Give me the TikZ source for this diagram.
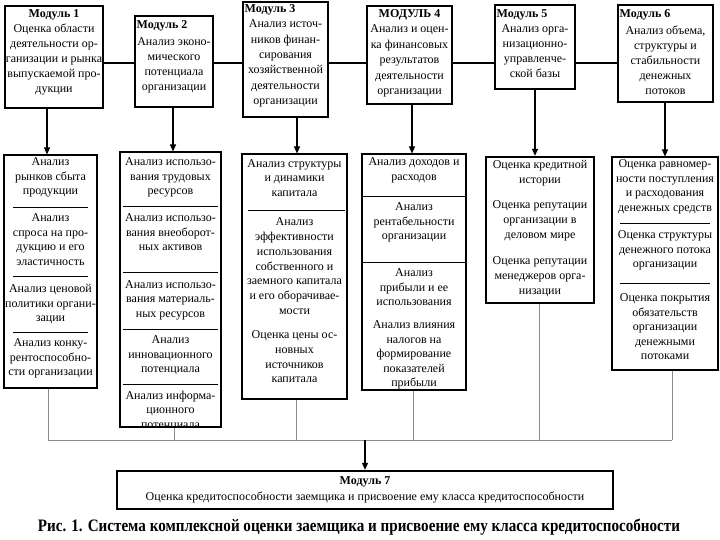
\documentclass[tikz,border=0pt]{standalone}
\usepackage{fontspec}
\setmainfont{Liberation Serif}
\usetikzlibrary{arrows.meta}
\begin{document}
\begin{tikzpicture}[x=1pt,y=-1pt,
  box/.style={draw, line width=1.1pt, inner sep=0pt},
  midbox/.style={draw, line width=1.6pt, inner sep=0pt},
  thickbox/.style={draw, line width=2.4pt, inner sep=0pt},
  ttxt/.style={font=\fontsize{12}{15}\selectfont, align=center, inner sep=0pt},
  ltxt/.style={font=\fontsize{12}{14.5}\selectfont, align=center, inner sep=0pt},
  ttl/.style={font=\bfseries\fontsize{12}{15}\selectfont, inner sep=0pt},
  sepline/.style={line width=0.9pt},
  conn/.style={line width=1.1pt},
  feed/.style={-{Triangle[length=7pt,width=6pt]}, line width=1.1pt},
  busline/.style={draw=black!45, line width=0.9pt}]
\fill[white] (0,0) rectangle (720,540);
\useasboundingbox (0,0) rectangle (720,540);

% ---------- top modules ----------
\node[box, minimum width=98pt, minimum height=102pt] (m1) at (54,57) {};
\node[box, minimum width=78pt, minimum height=91pt] (m2) at (174,61.5) {};
\node[thickbox, minimum width=85pt, minimum height=115pt] (m3) at (285.5,59.5) {};
\node[box, minimum width=85pt, minimum height=98pt] (m4) at (409.5,55) {};
\node[midbox, minimum width=80pt, minimum height=84pt] (m5) at (535,47) {};
\node[midbox, minimum width=95pt, minimum height=97pt] (m6) at (665.5,53.5) {};

\node[ttl] (t1) at (54,15) {Модуль 1};
\node[ttxt] (x1) at (54,60) {Оценка области\\деятельности ор-\\ганизации и рынка\\выпускаемой про-\\дукции};
\node[ttl, anchor=west] (t2) at (136.5,26) {Модуль 2};
\node[ttxt] (x2) at (174,65) {Анализ эконо-\\мического\\потенциала\\организации};
\node[ttl, anchor=west] (t3) at (244.5,10) {Модуль 3};
\node[ttxt, font=\fontsize{12}{15.4}\selectfont] (x3) at (285.5,63.5) {Анализ источ-\\ников финан-\\сирования\\хозяйственной\\деятельности\\организации};
\node[ttl] (t4) at (409.5,15) {МОДУЛЬ 4};
\node[ttxt, font=\fontsize{12}{15.5}\selectfont] (x4) at (409.5,61) {Анализ и оцен-\\ка финансовых\\результатов\\деятельности\\организации};
\node[ttl, anchor=west] (t5) at (496.5,15) {Модуль 5};
\node[ttxt] (x5) at (535,51) {Анализ орга-\\низационно-\\управленче-\\ской базы};
\node[ttl, anchor=west] (t6) at (619.5,15) {Модуль 6};
\node[ttxt] (x6) at (665.5,60) {Анализ объема,\\структуры и\\стабильности\\денежных\\потоков};

% ---------- lower boxes ----------
\node[box, minimum width=93pt, minimum height=233pt] (l1) at (50.5,271.5) {};
\node[box, minimum width=101pt, minimum height=275pt] (l2) at (170.5,289.5) {};
\node[box, minimum width=105pt, minimum height=245pt] (l3) at (294.5,276.5) {};
\node[box, minimum width=104pt, minimum height=236pt] (l4) at (414,272) {};
\node[thickbox, minimum width=108pt, minimum height=146pt] (l5) at (540,230) {};
\node[box, minimum width=106pt, minimum height=213pt] (l6) at (665,263.5) {};

% L1
\node[ltxt] (l1a) at (50.5,177.5) {Анализ\\рынков сбыта\\продукции};
\node[ltxt] (l1b) at (50.5,239.75) {Анализ\\спроса на про-\\дукцию и его\\эластичность};
\node[ltxt] (l1c) at (50.5,304.5) {Анализ ценовой\\политики органи-\\зации};
\node[ltxt] (l1d) at (50.5,358.5) {Анализ конку-\\рентоспособно-\\сти организации};
\draw[sepline] (13,207) -- (88,207);
\draw[sepline] (13,276) -- (88,276);
\draw[sepline] (13,332) -- (88,332);

% L2
\node[ltxt] (l2a) at (170.5,177.5) {Анализ использо-\\вания трудовых\\ресурсов};
\node[ltxt] (l2b) at (170.5,232.5) {Анализ использо-\\вания внеоборот-\\ных активов};
\node[ltxt] (l2c) at (170.5,300) {Анализ использо-\\вания материаль-\\ных ресурсов};
\node[ltxt] (l2d) at (170.5,355.5) {Анализ\\инновационного\\потенциала};
\begin{scope}
\clip (l2.south west) rectangle (l2.north east);
\node[ltxt] (l2e) at (170.5,410.5) {Анализ информа-\\ционного\\потенциала};
\end{scope}
\draw[sepline] (123,206) -- (218,206);
\draw[sepline] (123,272) -- (218,272);
\draw[sepline] (123,329) -- (218,329);
\draw[sepline] (123,384) -- (218,384);

% L3
\node[ltxt, font=\fontsize{12}{14.7}\selectfont] (l3a) at (294.5,178) {Анализ структуры\\и динамики\\капитала};
\node[ltxt, font=\fontsize{12}{14.7}\selectfont] (l3b) at (294.5,266.1) {Анализ\\эффективности\\использования\\собственного и\\заемного капитала\\и его оборачивае-\\мости};
\node[ltxt, font=\fontsize{12}{14.7}\selectfont] (l3c) at (294.5,357) {Оценка цены ос-\\новных\\источников\\капитала};
\draw[sepline] (248,210) -- (345,210);

% L4
\node[ltxt] (l4a) at (414,170.25) {Анализ доходов и\\расходов};
\node[ltxt] (l4b) at (414,222.5) {Анализ\\рентабельности\\организации};
\node[ltxt] (l4c) at (414,287.5) {Анализ\\прибыли и ее\\использования};
\begin{scope}
\clip (l4.south west) rectangle (l4.north east);
\node[ltxt] (l4d) at (414,355) {Анализ влияния\\налогов на\\формирование\\показателей\\прибыли};
\end{scope}
\draw[sepline] (363,196) -- (465,196);
\draw[sepline] (363,262) -- (465,262);

% L5
\node[ltxt, font=\fontsize{12}{15}\selectfont] (l5a) at (540,173.5) {Оценка кредитной\\истории};
\node[ltxt, font=\fontsize{12}{15}\selectfont] (l5b) at (540,221) {Оценка репутации\\организации в\\деловом мире};
\node[ltxt, font=\fontsize{12}{15}\selectfont] (l5c) at (540,277) {Оценка репутации\\менеджеров орга-\\низации};

% L6
\node[ltxt] (l6a) at (665,186.75) {Оценка равномер-\\ности поступления\\и расходования\\денежных средств};
\node[ltxt] (l6b) at (665,250.5) {Оценка структуры\\денежного потока\\организации};
\node[ltxt] (l6c) at (665,327) {Оценка покрытия\\обязательств\\организации\\денежными\\потоками};
\draw[sepline] (620,223) -- (710,223);
\draw[sepline] (620,283) -- (710,283);

% ---------- module 7 ----------
\node[thickbox, minimum width=496pt, minimum height=38pt] (m7) at (365,490) {};
\node[ttl] (t7) at (365,482) {Модуль 7};
\node[ltxt, font=\fontsize{12}{14}\selectfont] (x7) at (365,497) {Оценка кредитоспособности заемщика и присвоение ему класса кредитоспособности};

% caption
\node[inner sep=0pt, font=\bfseries] (cap) at (359,527) {\resizebox{642pt}{12.5pt}{\fontsize{18}{20}\selectfont Рис. 1. Система комплексной оценки заемщика и присвоение ему класса кредитоспособности}};

% ---------- connectors ----------
\coordinate (hy) at (0,63);
\draw[conn] (m1.east |- hy) -- (m2.west |- hy);
\draw[conn] (m2.east |- hy) -- (m3.west |- hy);
\draw[conn] (m3.east |- hy) -- (m4.west |- hy);
\draw[conn] (m4.east |- hy) -- (m5.west |- hy);
\draw[conn] (m5.east |- hy) -- (m6.west |- hy);

\coordinate (a1) at (47,0);
\coordinate (a2) at (173,0);
\coordinate (a3) at (297,0);
\coordinate (a4) at (412,0);
\coordinate (a5) at (535,0);
\coordinate (a6) at (665,0);
\draw[feed] (m1.south -| a1) -- (l1.north -| a1);
\draw[feed] (m2.south -| a2) -- (l2.north -| a2);
\draw[feed] (m3.south -| a3) -- (l3.north -| a3);
\draw[feed] (m4.south -| a4) -- (l4.north -| a4);
\draw[feed] (m5.south -| a5) -- (l5.north -| a5);
\draw[feed] (m6.south -| a6) -- (l6.north -| a6);

\coordinate (b1) at (48,440);
\coordinate (b2) at (174,440);
\coordinate (b3) at (296,440);
\coordinate (b4) at (413,440);
\coordinate (b5) at (539,440);
\coordinate (b6) at (672,440);
\draw[busline] (l1.south -| b1) -- (b1);
\draw[busline] (l2.south -| b2) -- (b2);
\draw[busline] (l3.south -| b3) -- (b3);
\draw[busline] (l4.south -| b4) -- (b4);
\draw[busline] (l5.south -| b5) -- (b5);
\draw[busline] (l6.south -| b6) -- (b6);
\draw[busline] (b1) -- (b6);
\draw[feed] (m7.north |- b1) -- (m7.north);
\end{tikzpicture}
\end{document}
